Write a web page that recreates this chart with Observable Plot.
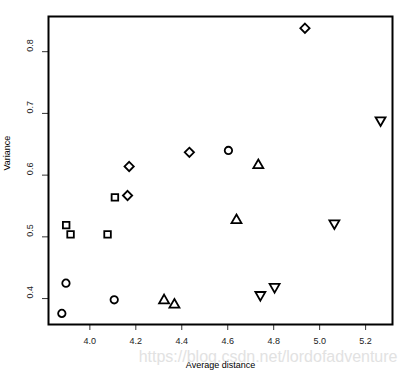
<!DOCTYPE html>
<html>
<head>
<meta charset="utf-8">
<script src="https://cdn.jsdelivr.net/npm/d3@7"></script>
<script src="https://cdn.jsdelivr.net/npm/@observablehq/plot@0.6"></script>
<style>
  html, body { margin: 0; padding: 0; background: #fff; }
  #chart svg { display: block; }
</style>
</head>
<body>
<div id="chart"></div>
<script>
// Data
const distance = [3.878, 3.896, 4.106, 4.603,
                  3.897, 3.916, 4.077, 4.109,
                  4.164, 4.171, 4.433, 4.936,
                  4.323, 4.368, 4.638, 4.733,
                  4.742, 4.804, 5.064, 5.265];
const variance = [0.376, 0.425, 0.398, 0.640,
                  0.519, 0.504, 0.504, 0.564,
                  0.567, 0.614, 0.637, 0.838,
                  0.397, 0.390, 0.527, 0.616,
                  0.406, 0.419, 0.522, 0.689];
const shape = ["circle", "circle", "circle", "circle",
               "square", "square", "square", "square",
               "diamond", "diamond", "diamond", "diamond",
               "up", "up", "up", "up",
               "down", "down", "down", "down"];
const xTicks = [4.0, 4.2, 4.4, 4.6, 4.8, 5.0, 5.2];
const yTicks = [0.4, 0.5, 0.6, 0.7, 0.8];
const xLabel = "Average distance";
const yLabel = "Variance";
const watermark = "https://blog.csdn.net/lordofadventure";

const data = distance.map((d, i) => ({distance: d, variance: variance[i], shape: shape[i]}));

// R-style pch symbols (pch 1, 0, 5, 2, 6)
const rad = size => Math.sqrt(size / Math.PI);
const symbols = {
  circle: {draw(c, size) { const r = rad(size); c.moveTo(r, 0); c.arc(0, 0, r, 0, 2 * Math.PI); }},
  square: {draw(c, size) { const h = rad(size) * 0.886; c.moveTo(-h, -h); c.lineTo(h, -h); c.lineTo(h, h); c.lineTo(-h, h); c.closePath(); }},
  diamond: {draw(c, size) { const h = rad(size) * 1.253; c.moveTo(0, -h); c.lineTo(h, 0); c.lineTo(0, h); c.lineTo(-h, 0); c.closePath(); }},
  up: {draw(c, size) { const x = rad(size); c.moveTo(0, -1.555 * x); c.lineTo(1.347 * x, 0.778 * x); c.lineTo(-1.347 * x, 0.778 * x); c.closePath(); }},
  down: {draw(c, size) { const x = rad(size); c.moveTo(0, 1.555 * x); c.lineTo(1.347 * x, -0.778 * x); c.lineTo(-1.347 * x, -0.778 * x); c.closePath(); }}
};

const font = "'Liberation Sans', Arial, Helvetica, sans-serif";

const chart = Plot.plot({
  width: 407,
  height: 379,
  marginLeft: 48,
  marginRight: 15,
  marginTop: 16,
  marginBottom: 55,
  style: {fontFamily: font, fontSize: "9px", background: "#fff", color: "#000"},
  x: {domain: [3.820, 5.317]},
  y: {domain: [0.358, 0.857]},
  symbol: {
    domain: ["circle", "square", "diamond", "up", "down"],
    range: [symbols.circle, symbols.square, symbols.diamond, symbols.up, symbols.down]
  },
  marks: [
    Plot.axisX(xTicks, {tickSize: 6, tickFormat: () => "", label: null, stroke: "#333"}),
    Plot.axisY(yTicks, {tickSize: 6, tickFormat: () => "", label: null, stroke: "#333"}),
    Plot.text(xTicks, {x: d => d, frameAnchor: "bottom", dy: 19, text: d => d.toFixed(1), fill: "#222", fontSize: 9}),
    Plot.text(yTicks, {y: d => d, frameAnchor: "left", dx: -18, rotate: -90, text: d => d.toFixed(1), fill: "#222", fontSize: 9}),
    Plot.text([watermark], {frameAnchor: "bottom-right", dx: 5, dy: 37, textAnchor: "end", text: d => d, fill: "#e2e2e2", fontSize: 16}),
    Plot.text([xLabel], {frameAnchor: "bottom", dy: 43, text: d => d, fill: "#000", fontSize: 9}),
    Plot.text([yLabel], {frameAnchor: "left", dx: -41, rotate: -90, text: d => d, fill: "#000", fontSize: 9}),
    Plot.frame({stroke: "#000", strokeWidth: 2}),
    Plot.dot(data, {x: "distance", y: "variance", symbol: "shape", r: 3.7, stroke: "#000", strokeWidth: 1.8, fill: "none"})
  ]
});
document.getElementById("chart").appendChild(chart);
</script>
</body>
</html>
